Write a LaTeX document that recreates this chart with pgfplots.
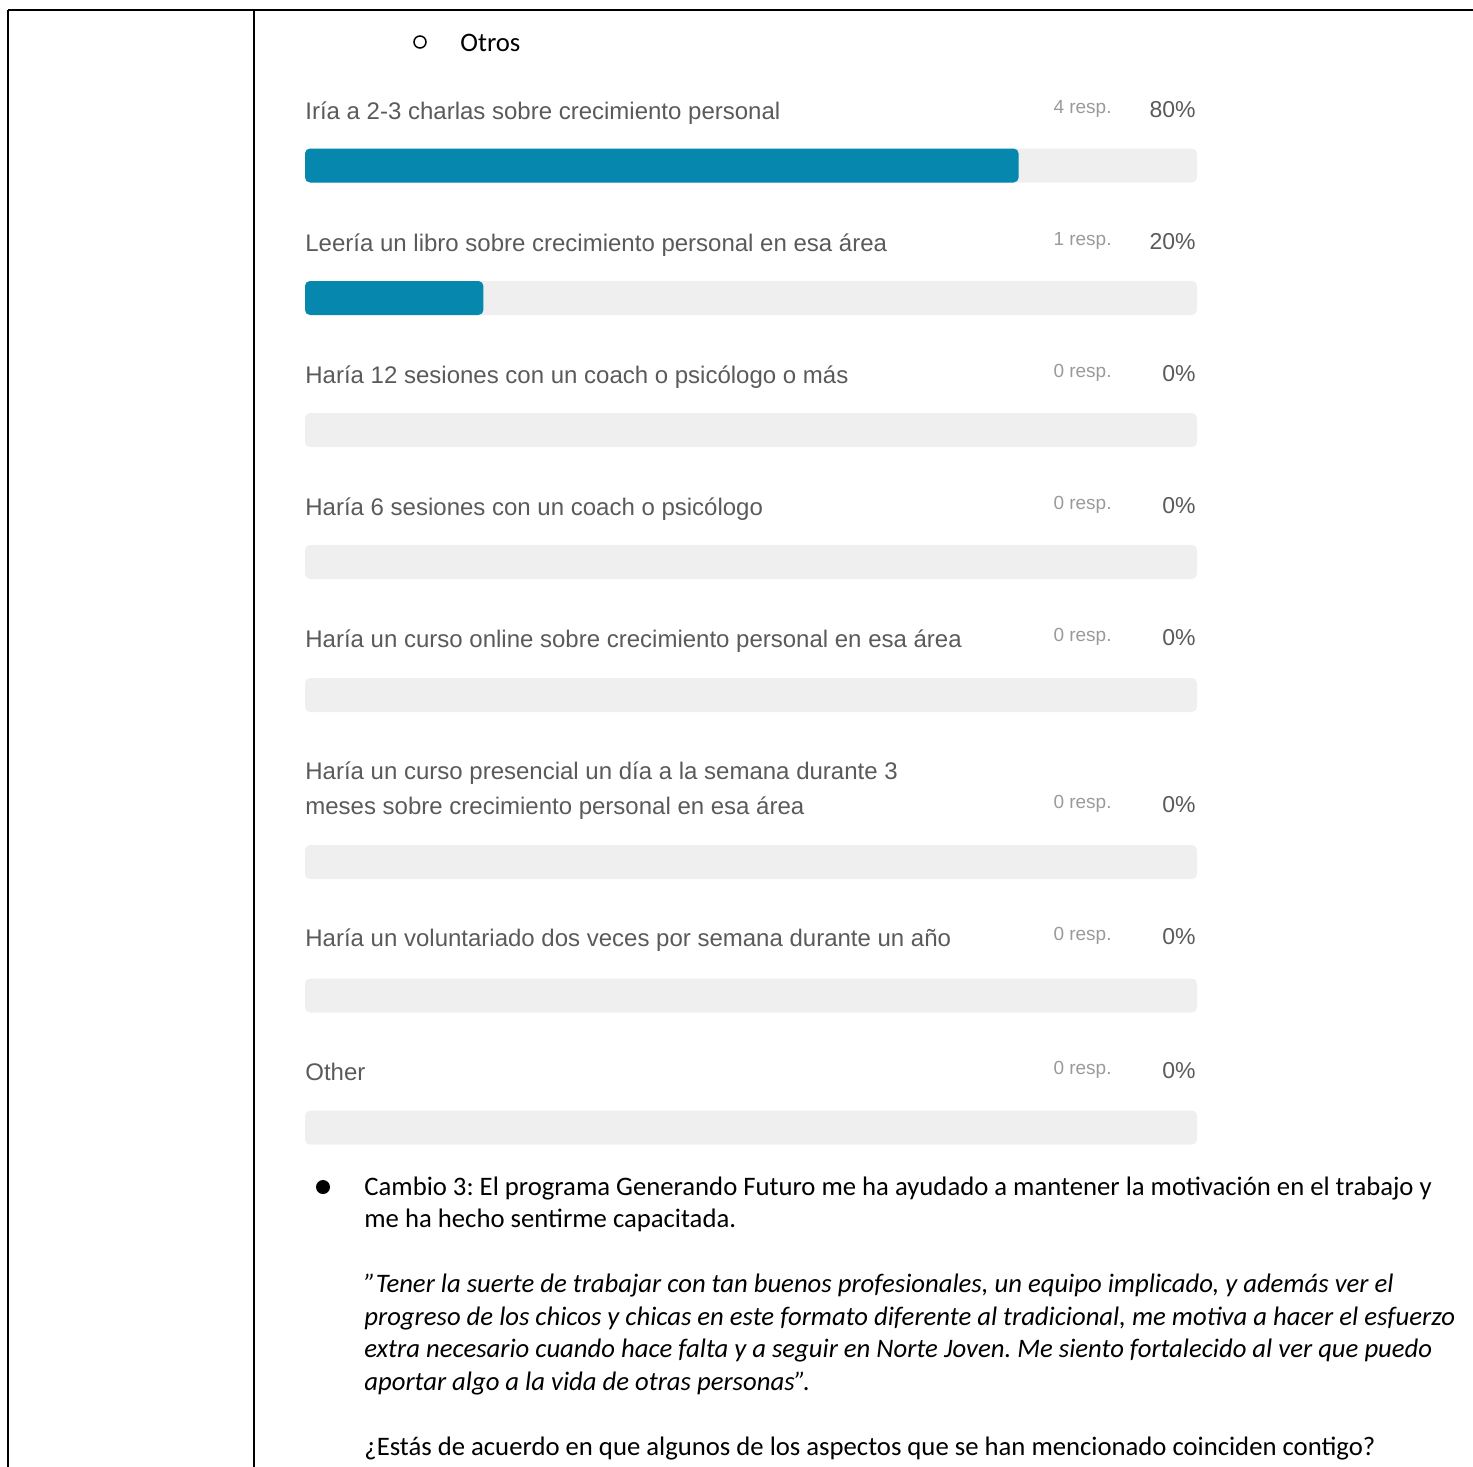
\documentclass[border=0pt]{standalone}
\usepackage{fontspec}
\setmainfont{Carlito}
\newfontfamily\gf{Liberation Sans}
\usepackage{pgfplots}
\pgfplotsset{compat=1.18}
\frenchspacing
\definecolor{barblue}{HTML}{0587AE}
\definecolor{track}{HTML}{EFEFEF}
\definecolor{lbl}{HTML}{5A5A5A}
\definecolor{resp}{HTML}{9A9A9A}
\newcommand\PX[1]{{(#1-305)/8.92}}
\newcommand\lblfont{\gf\fontsize{12}{14}\selectfont}
\newcommand\respfont{\gf\fontsize{9.5}{11}\selectfont}
\newcommand\pctfont{\gf\fontsize{11.5}{13}\selectfont}
\newcommand\bodyfont{\fontsize{13.35}{16}\selectfont}
\newcommand\row[4]{%
  \node[anchor=base west, inner sep=0pt, font=\lblfont, text=lbl] at (axis cs:0,{#1+10}) {#2};
  \node[anchor=base east, inner sep=0pt, font=\respfont, text=resp] at (axis cs:\PX{1112},{#1+4}) {#3 resp.};
  \node[anchor=base east, inner sep=0pt, font=\pctfont, text=lbl] at (axis cs:\PX{1196},{#1+8}) {#4\%};
}
\begin{document}
\frenchspacing
\begin{tikzpicture}
\begin{axis}[
  width=736.5pt, height=733.5pt, scale only axis,
  xmin=-34.1928, xmax=130.9417, ymin=0, ymax=1467, y dir=reverse,
  hide axis, clip=false,
]
% background tracks (100%)
\addplot[xbar, bar width=34, bar shift=0pt, fill=track, draw=none, rounded corners=2.5pt]
  coordinates {(100,165.5) (100,298) (100,430) (100,562) (100,695) (100,862) (100,995.5) (100,1127.5)};
% answer shares (%); empty answers are not drawn
\addplot[xbar, bar width=34, bar shift=0pt, fill=barblue, draw=none, rounded corners=2.5pt,
  x filter/.expression={x<=0 ? nan : x}, unbounded coords=discard]
  coordinates {(80,165.5) (20,298) (0,430) (0,562) (0,695) (0,862) (0,995.5) (0,1127.5)};

% table lines
\draw[line width=1pt] (axis cs:\PX{8},10) -- (axis cs:\PX{1480},10);
\draw[line width=1pt] (axis cs:\PX{8.5},10) -- (axis cs:\PX{8.5},1480);
\draw[line width=1pt] (axis cs:\PX{254},10) -- (axis cs:\PX{254},1480);

% sub bullet
\draw[line width=0.75pt] (axis cs:\PX{420},42) circle[radius=3pt];
\node[anchor=base west, inner sep=0pt, font=\bodyfont] at (axis cs:\PX{460},51) {Otros};

\row{109}{Iría a 2-3 charlas sobre crecimiento personal}{4}{80}
\row{241}{Leería un libro sobre crecimiento personal en esa área}{1}{20}
\row{373}{Haría 12 sesiones con un coach o psicólogo o más}{0}{0}
\row{505}{Haría 6 sesiones con un coach o psicólogo}{0}{0}
\row{637}{Haría un curso online sobre crecimiento personal en esa área}{0}{0}
\node[anchor=base west, inner sep=0pt, font=\lblfont, text=lbl] at (axis cs:0,779) {Haría un curso presencial un día a la semana durante 3};
\row{804}{meses sobre crecimiento personal en esa área}{0}{0}
\row{936}{Haría un voluntariado dos veces por semana durante un año}{0}{0}
\row{1070}{Other}{0}{0}

% bottom text
\fill (axis cs:\PX{323},1187) circle[radius=3.5pt];
\node[anchor=base west, inner sep=0pt, font=\bodyfont\frenchspacing] at (axis cs:\PX{364},1195) {Cambio 3: El programa Generando Futuro me ha ayudado a mantener la motivación en el trabajo y};
\node[anchor=base west, inner sep=0pt, font=\bodyfont\frenchspacing] at (axis cs:\PX{364},1227) {me ha hecho sentirme capacitada.};
\node[anchor=base west, inner sep=0pt, font=\bodyfont\itshape\frenchspacing] at (axis cs:\PX{364},1292) {\char"0022 Tener la suerte de trabajar con tan buenos profesionales, un equipo implicado, y además ver el};
\node[anchor=base west, inner sep=0pt, font=\bodyfont\itshape\frenchspacing] at (axis cs:\PX{364},1325) {progreso de los chicos y chicas en este formato diferente al tradicional, me motiva a hacer el esfuerzo};
\node[anchor=base west, inner sep=0pt, font=\bodyfont\itshape\frenchspacing] at (axis cs:\PX{364},1357) {extra necesario cuando hace falta y a seguir en Norte Joven. Me siento fortalecido al ver que puedo};
\node[anchor=base west, inner sep=0pt, font=\bodyfont\itshape\frenchspacing] at (axis cs:\PX{364},1390) {aportar algo a la vida de otras personas\char"0022.};
\node[anchor=base west, inner sep=0pt, font=\bodyfont\frenchspacing] at (axis cs:\PX{364},1455) {¿Estás de acuerdo en que algunos de los aspectos que se han mencionado coinciden contigo?};
\end{axis}
\pgfresetboundingbox
\path (0,0) rectangle (736.5pt,733.5pt);
\end{tikzpicture}
\end{document}
